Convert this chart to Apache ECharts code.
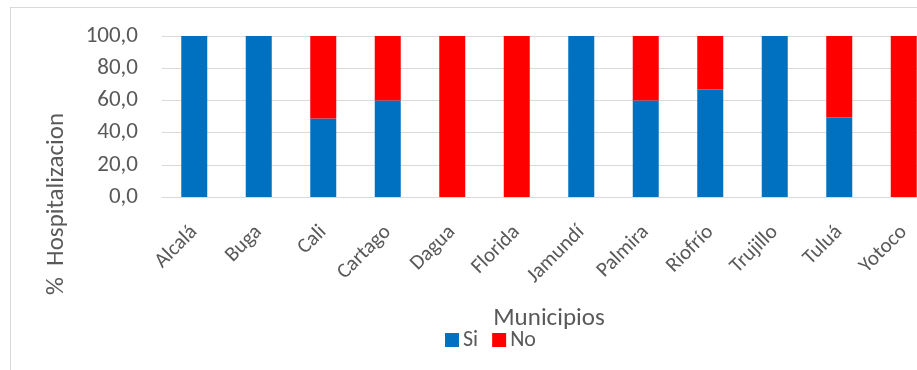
<!DOCTYPE html>
<html>
<head>
<meta charset="utf-8">
<script src="https://cdn.jsdelivr.net/npm/echarts@6/dist/echarts.min.js"></script>
<style>
  html, body { margin: 0; padding: 0; background: #fff; overflow: hidden; width: 917px; height: 370px; }
  #frame { position: absolute; left: 10px; top: 7px; width: 940px; height: 380px; border: 1px solid #d9d9d9; box-sizing: border-box; }
  #chart { position: absolute; left: 0; top: 0; width: 960px; height: 370px; }
</style>
</head>
<body>
<div id="frame"></div>
<div id="chart"></div>
<script>
// Hospitalization share per municipality (stacked to 100%)
const municipios = ['Alcalá', 'Buga', 'Cali', 'Cartago', 'Dagua', 'Florida', 'Jamundí', 'Palmira', 'Riofrío', 'Trujillo', 'Tuluá', 'Yotoco'];
const si = [100, 100, 48.8, 60, 0, 0, 100, 60, 66.7, 100, 49.4, 0];
const no = [0, 0, 51.2, 40, 100, 100, 0, 40, 33.3, 0, 50.6, 100];
const yTicks = [0, 20, 40, 60, 80, 100];

const chart = echarts.init(document.getElementById('chart'));
const font = 'Calibri, Carlito, "Open Sans", "Noto Sans", sans-serif';
const grey = '#595959';
chart.setOption({
  animation: false,
  textStyle: { fontFamily: font },
  grid: { left: 162, top: 36, width: 774, height: 161, containLabel: false },
  legend: {
    data: ['Si', 'No'],
    left: 445,
    top: 329,
    padding: 0,
    itemWidth: 14, itemHeight: 14, itemGap: 14,
    icon: 'rect',
    textStyle: { fontSize: 22, color: grey, fontFamily: font, padding: [0, 0, 0, -1] }
  },
  graphic: [
    { type: 'text', silent: true,
      x: 57, y: 204, rotation: Math.PI / 2,
      style: { text: '%  Hospitalizacion', fontSize: 25, fill: grey, fontFamily: font,
               align: 'center', verticalAlign: 'middle' } }
  ],
  xAxis: {
    type: 'category',
    data: municipios,
    name: 'Municipios',
    nameLocation: 'middle',
    nameGap: 109,
    nameTextStyle: { fontSize: 25, color: grey, fontFamily: font },
    axisLine: { lineStyle: { color: '#d9d9d9' } },
    axisTick: { show: false },
    axisLabel: { rotate: 45, fontSize: 21, color: grey, margin: 32, fontFamily: font }
  },
  yAxis: {
    type: 'value',
    min: 0, max: 100, interval: 20,
    axisLine: { show: false },
    axisTick: { show: false },
    splitLine: { lineStyle: { color: '#d9d9d9', width: 1 } },
    axisLabel: {
      fontSize: 23, color: grey, margin: 24, fontFamily: font,
      customValues: yTicks,
      formatter: v => v.toFixed(1).replace('.', ',')
    }
  },
  series: [
    { name: 'Si', type: 'bar', stack: 'total', data: si, barWidth: 26,
      itemStyle: { color: '#0070C0' } },
    { name: 'No', type: 'bar', stack: 'total', data: no, barWidth: 26,
      itemStyle: { color: '#FF0000' } }
  ]
});
</script>
</body>
</html>
